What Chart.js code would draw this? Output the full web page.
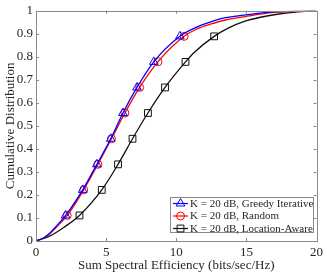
<!DOCTYPE html>
<html>
<head>
<meta charset="utf-8">
<script src="https://cdn.jsdelivr.net/npm/chart.js@4.4.1/dist/chart.umd.min.js"></script>
<style>
html,body{margin:0;padding:0;background:#fff;}
#wrap{width:327px;height:273px;position:relative;}
</style>
</head>
<body>
<div id="wrap"><canvas id="c" width="327" height="273"></canvas></div>
<script>
// ---- data ----
const xTicks = [0, 5, 10, 15, 20];
const yTicks = [0, 0.1, 0.2, 0.3, 0.4, 0.5, 0.6, 0.7, 0.8, 0.9, 1];

const greedyX = [0, 0.5, 1, 1.5, 2.11, 3.33, 4.34, 5.33, 6.2, 7.2, 8.4, 10.26, 11.5, 12.5, 13.5, 14.8, 16, 17.2, 18.5, 20];
const greedyY = [0, 0.012, 0.035, 0.068, 0.111, 0.222, 0.333, 0.444, 0.556, 0.667, 0.778, 0.889, 0.93, 0.953, 0.97, 0.981, 0.99, 0.996, 0.999, 1];
const greedyMarks = [4, 5, 6, 7, 8, 9, 10, 11];

const randomX = [0, 0.5, 1, 1.5, 2.23, 3.40, 4.41, 5.38, 6.34, 7.39, 8.69, 10.56, 11.5, 12.5, 13.5, 14.8, 16, 17.2, 18.5, 20];
const randomY = [0, 0.012, 0.033, 0.063, 0.111, 0.222, 0.333, 0.444, 0.556, 0.667, 0.778, 0.889, 0.922, 0.943, 0.96, 0.974, 0.986, 0.994, 0.998, 1];
const randomMarks = [4, 5, 6, 7, 8, 9, 10, 11];

const locX = [0, 1, 2, 3.10, 4.69, 5.85, 6.88, 7.98, 9.2, 10.66, 11.3, 12.7, 13.7, 14.8, 16, 17.2, 18.5, 20];
const locY = [0, 0.022, 0.06, 0.111, 0.222, 0.333, 0.444, 0.556, 0.667, 0.778, 0.82, 0.889, 0.925, 0.953, 0.972, 0.985, 0.994, 1];
const locMarks = [3, 4, 5, 6, 7, 8, 9, 11];

const seriesLabels = ['K = 20 dB, Greedy Iterative', 'K = 20 dB, Random', 'K = 20 dB, Location-Aware'];
const xTitle = 'Sum Spectral Efficiency (bits/sec/Hz)';
const yTitle = 'Cumulative Distribution';

// ---- build ----
function pts(xs, ys) { return xs.map((x, i) => ({x: x, y: ys[i]})); }
function radii(n, marks, r) { const a = new Array(n).fill(0); marks.forEach(i => a[i] = r); return a; }

const FONT = '"Liberation Serif","Times New Roman",serif';
const AX = '#262626';
const BOX = '#8a8a8a';

const specs = [
  {label: seriesLabels[0], data: pts(greedyX, greedyY), color: '#0000ff', style: 'triangle', r: 5, marks: greedyMarks},
  {label: seriesLabels[1], data: pts(randomX, randomY), color: '#ff0000', style: 'circle', r: 4, marks: randomMarks},
  {label: seriesLabels[2], data: pts(locX, locY), color: '#111111', style: 'rect', r: 4.8, marks: locMarks}
];

const datasets = specs.map(s => ({
  label: s.label,
  data: s.data,
  borderColor: s.color,
  backgroundColor: 'rgba(0,0,0,0)',
  borderWidth: 1.3,
  pointStyle: s.style,
  pointRadius: radii(s.data.length, s.marks, s.r),
  pointHoverRadius: 0,
  pointBorderColor: s.color,
  pointBackgroundColor: 'rgba(0,0,0,0)',
  pointBorderWidth: 1,
  cubicInterpolationMode: 'monotone',
  tension: 0.4,
  fill: false
}));

const framePlugin = {
  id: 'frame',
  afterDatasetsDraw(chart) {
    const {ctx, chartArea: a, scales} = chart;
    ctx.save();
    ctx.strokeStyle = BOX;
    ctx.lineWidth = 1;
    ctx.strokeRect(Math.round(a.left) + 0.5, Math.round(a.top) + 0.5, Math.round(a.right - a.left), Math.round(a.bottom - a.top));
    const tl = 3;
    ctx.beginPath();
    xTicks.forEach(v => {
      const x = Math.round(scales.x.getPixelForValue(v)) + 0.5;
      ctx.moveTo(x, a.bottom); ctx.lineTo(x, a.bottom - tl);
      ctx.moveTo(x, a.top); ctx.lineTo(x, a.top + tl);
    });
    yTicks.forEach(v => {
      const y = Math.round(scales.y.getPixelForValue(v)) + 0.5;
      ctx.moveTo(a.left, y); ctx.lineTo(a.left + tl, y);
      ctx.moveTo(a.right, y); ctx.lineTo(a.right - tl, y);
    });
    ctx.stroke();

    // legend
    const bx = 170.5, by = 197.5, bw = 143, bh = 35;
    ctx.fillStyle = '#ffffff';
    ctx.fillRect(bx, by, bw, bh);
    ctx.strokeStyle = BOX;
    ctx.strokeRect(bx, by, bw, bh);
    const rows = [203.5, 216, 228.5];
    ctx.font = '11px ' + FONT;
    ctx.textBaseline = 'middle';
    ctx.textAlign = 'left';
    specs.forEach((s, i) => {
      const y = rows[i];
      ctx.strokeStyle = s.color;
      ctx.lineWidth = 1.2;
      ctx.beginPath(); ctx.moveTo(173, y); ctx.lineTo(188, y); ctx.stroke();
      ctx.lineWidth = 1;
      ctx.fillStyle = 'rgba(0,0,0,0)';
      Chart.helpers.drawPoint(ctx, {pointStyle: s.style, radius: s.r, rotation: 0, borderWidth: 1}, 180.5, y);
      ctx.fillStyle = AX;
      ctx.fillText(s.label, 190, y + 0.5);
    });
    ctx.restore();
  }
};

new Chart(document.getElementById('c'), {
  type: 'line',
  data: {datasets: datasets},
  plugins: [framePlugin],
  options: {
    responsive: false,
    animation: false,
    events: [],
    layout: {padding: {top: 7, right: 7, left: 3, bottom: 0}},
    plugins: {legend: {display: false}, tooltip: {enabled: false}},
    scales: {
      x: {
        type: 'linear', min: 0, max: 20,
        afterBuildTicks(sc) { sc.ticks = xTicks.map(v => ({value: v})); },
        afterFit(sc) { sc.height = 32; },
        grid: {display: false, drawTicks: false},
        border: {display: false},
        ticks: {color: AX, font: {family: FONT, size: 13}, padding: 4, maxRotation: 0},
        title: {display: true, text: xTitle, color: AX, font: {family: FONT, size: 13}, padding: {top: 0, bottom: 0}}
      },
      y: {
        type: 'linear', min: 0, max: 1,
        afterBuildTicks(sc) { sc.ticks = yTicks.map(v => ({value: v})); },
        afterFit(sc) { sc.width = 33; },
        grid: {display: false, drawTicks: false},
        border: {display: false},
        ticks: {color: AX, font: {family: FONT, size: 13}, padding: 3,
          callback: v => String(Math.round(v * 10) / 10)},
        title: {display: true, text: yTitle, color: AX, font: {family: FONT, size: 13}, padding: {top: 0, bottom: 0}}
      }
    }
  }
});
</script>
</body>
</html>
